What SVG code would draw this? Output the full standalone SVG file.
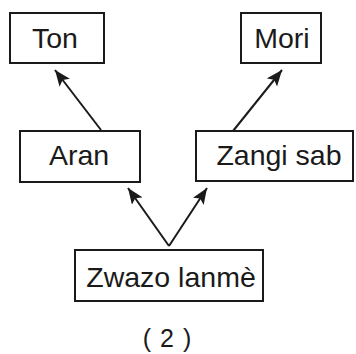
<svg xmlns="http://www.w3.org/2000/svg" width="356" height="354" viewBox="0 0 356 354">
<defs>
<style>
.box{fill:#fff;stroke:#1a1a1a;stroke-width:2}
.lbl{font-family:"Liberation Sans",Arial,sans-serif;font-size:28.5px;fill:#1a1a1a;text-anchor:middle}
.edge{stroke:#1a1a1a;stroke-width:2;fill:none;marker-end:url(#ah)}
</style>
<marker id="ah" markerUnits="userSpaceOnUse" markerWidth="17" markerHeight="13" refX="16" refY="6.5" orient="auto">
<path d="M0,0 L16,6.5 L0,13 L3.5,6.5 Z" fill="#1a1a1a"/>
</marker>
</defs>
<rect width="356" height="354" fill="#fff"/>
<g id="connectors">
<line class="edge" x1="101" y1="130" x2="55" y2="70"/>
<line class="edge" x1="233" y1="131" x2="282" y2="70"/>
<line class="edge" x1="169" y1="246" x2="128" y2="188"/>
<line class="edge" x1="169" y1="246" x2="207" y2="188"/>
</g>
<g id="ton">
<rect class="box" x="10" y="13" width="94" height="50"/>
<text class="lbl" x="55" y="48">Ton</text>
</g>
<g id="mori">
<rect class="box" x="241" y="13" width="80" height="50"/>
<text class="lbl" x="282" y="48">Mori</text>
</g>
<g id="aran">
<rect class="box" x="20" y="131" width="120" height="51"/>
<text class="lbl" x="79" y="165">Aran</text>
</g>
<g id="zangi">
<rect class="box" x="196" y="131" width="157" height="50"/>
<text class="lbl" x="279" y="165">Zangi sab</text>
</g>
<g id="zwazo">
<rect class="box" x="75" y="250" width="188" height="51"/>
<text class="lbl" x="171" y="287">Zwazo lanmè</text>
</g>
<text x="167" y="347" style="font-family:'Liberation Sans',Arial,sans-serif;font-size:25px;word-spacing:2px;fill:#1a1a1a;text-anchor:middle" xml:space="preserve">( 2 )</text>
</svg>
